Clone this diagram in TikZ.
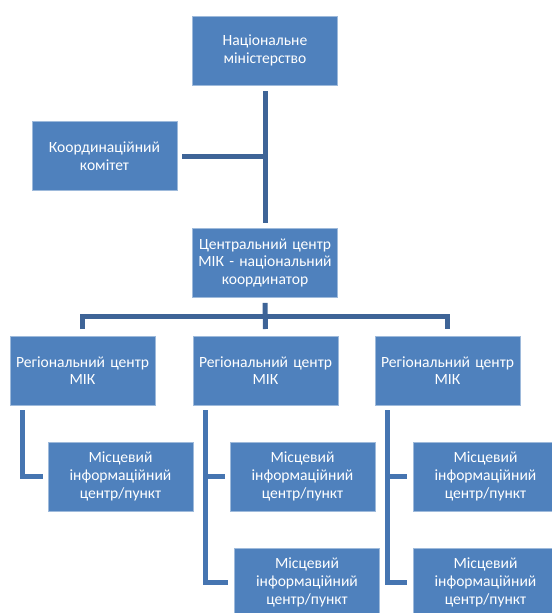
\documentclass[tikz,border=0pt]{standalone}
\usepackage{fontspec}
\setmainfont{Carlito}
\usetikzlibrary{positioning}
\definecolor{boxblue}{HTML}{4F81BD}
\definecolor{linkdark}{HTML}{3E6497}
\definecolor{linkblue}{HTML}{4675B1}

\begin{document}
\begin{tikzpicture}[x=0.75pt,y=-0.75pt,
  unit/.style={draw=boxblue!55!white,line width=0.5pt,fill=boxblue,text=white,
    minimum width=108.75pt,minimum height=51.75pt,text width=106pt,align=center,
    inner sep=1pt,font=\fontsize{11.7}{13.3}\selectfont},
  link/.style={draw=linkdark,line width=3.75pt},
  sublink/.style={draw=linkblue,line width=3.75pt}]
 \useasboundingbox (0,0) rectangle (552,613);
 \clip (0,0) rectangle (552,613);
 % top levels
 \node[unit] (nat) at (265,50.5) {Національне\\міністерство};
 \node[unit] (coord) at (104.5,156) {Координаційний\\комітет};
 \node[unit] (cent) at (265,263) {Центральний центр\\МІК - національний\\координатор};
 % regional centres
 \node[unit] (reg1) at (82.5,370.5) {Регіональний центр\\МІК};
 \node[unit] (reg2) at (265.5,370.5) {Регіональний центр\\МІК};
 \node[unit] (reg3) at (447.5,370.5) {Регіональний центр\\МІК};
 % local centres
 \node[unit] (loc1) at (120.5,476.5) {Місцевий\\інформаційний\\центр/пункт};
 \node[unit] (loc21) at (302.5,476.5) {Місцевий\\інформаційний\\центр/пункт};
 \node[unit] (loc22) at (307,582.5) {Місцевий\\інформаційний\\центр/пункт};
 \node[unit] (loc31) at (485.5,476.5) {Місцевий\\інформаційний\\центр/пункт};
 \node[unit] (loc32) at (485.5,582.5) {Місцевий\\інформаційний\\центр/пункт};
 % connectors
 \coordinate (jn) at (nat.south |- coord.east);
 \coordinate (bus) at (265,316);
 \draw[link,shorten <=4.5pt,shorten >=3.75pt] (nat.south) -- (cent.north);
 \draw[link,shorten <=3.75pt] (coord.east) -- ([xshift=1.875pt]jn);
 \draw[link,shorten <=3.75pt,shorten >=5pt] (cent.south) -- (reg2.north);
 \draw[link,shorten <=5pt,shorten >=5pt] (reg1.north) |- (bus) -| (reg3.north);
 \draw[sublink,shorten <=3.75pt,shorten >=3.75pt] ([xshift=9.75pt]reg1.south west) |- (loc1.west);
 \draw[sublink,shorten <=3.75pt,shorten >=3.75pt] ([xshift=9.75pt]reg2.south west) |- (loc21.west);
 \draw[sublink,shorten <=3.75pt,shorten >=4.5pt] ([xshift=9.75pt]reg2.south west) |- (loc22.west);
 \draw[sublink,shorten <=3.75pt,shorten >=4.5pt] ([xshift=9.75pt]reg3.south west) |- (loc31.west);
 \draw[sublink,shorten <=3.75pt,shorten >=4.5pt] ([xshift=9.75pt]reg3.south west) |- (loc32.west);
\end{tikzpicture}
\end{document}
